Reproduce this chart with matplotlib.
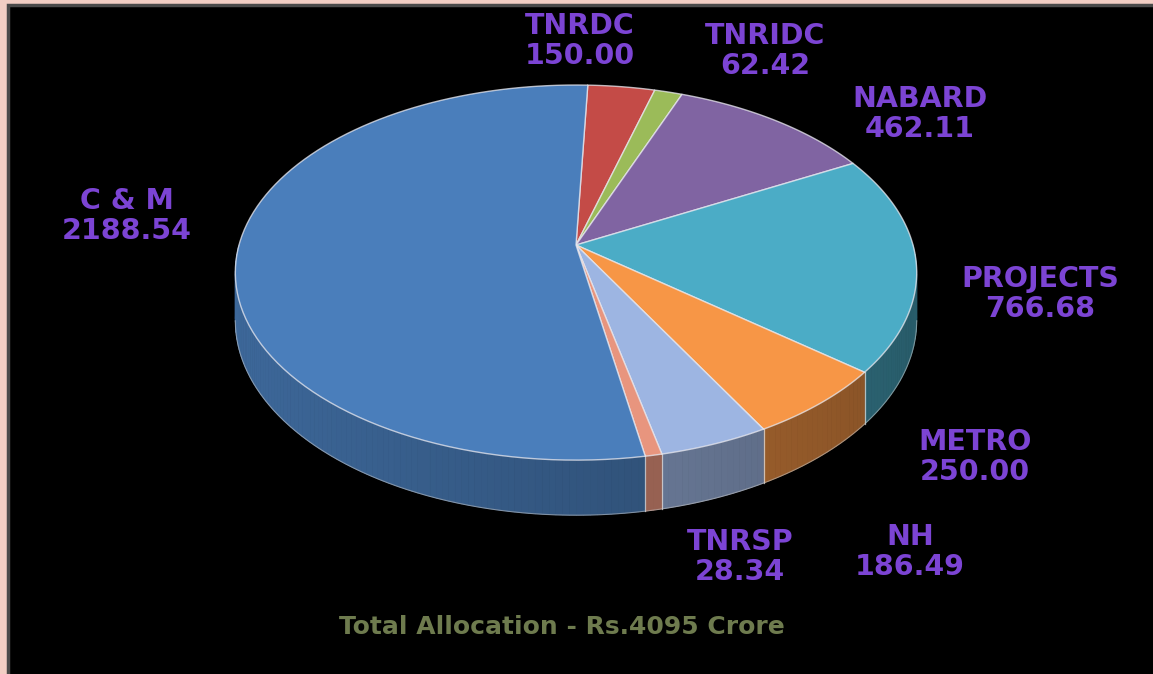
import numpy as np
import matplotlib.pyplot as plt
from matplotlib.patches import Polygon, Rectangle
from matplotlib.colors import to_rgb

# Chart data
categories = ["TNRDC", "TNRIDC", "NABARD", "PROJECTS", "METRO", "NH", "TNRSP", "C & M"]
allocation = [150.00, 62.42, 462.11, 766.68, 250.00, 186.49, 28.34, 2188.54]
title_text = "Total Allocation - Rs.4095 Crore"

# Styles
slice_colors = ["#C44B47", "#9BBB59", "#8064A2", "#4BACC6",
                "#F79646", "#9DB5E2", "#E8957E", "#4A7EBB"]
label_color = "#7C44D4"
title_color = "#6E7B4E"
# label centres (pixels from top-left)
label_pos = [(580, 41), (765, 51), (920, 114), (1040, 294),
             (975, 457), (910, 552), (740, 557), (127, 216)]

W, H = 1153, 674
CX, CY = 576, 245          # pie centre on the top face
A, B, K = 337, 183.5, 0.147  # half axes and perspective factor
DEPTH = 47
START = 87.7               # degrees, slices run clockwise


def project(t, drop=0.0):
    u, v = np.cos(t), np.sin(t)
    d = 1 + K * v
    return CX + A * u / d, CY - B * v / d + drop / d


def shade(color, f):
    r, g, b = to_rgb(color)
    return (r * f, g * f, b * f)


fig = plt.figure(figsize=(W / 100, H / 100), dpi=100)
fig.patch.set_facecolor("#F2CEC4")
ax = fig.add_axes([0, 0, 1, 1])
ax.set_xlim(0, W)
ax.set_ylim(H, 0)
ax.axis("off")

# black chart area
ax.add_patch(Rectangle((8, 5), W, H, facecolor="black", edgecolor="#4a4a4a", lw=2.5))

vals = np.array(allocation)
frac = vals / vals.sum()
edges = np.radians(START - 360 * np.concatenate([[0], np.cumsum(frac)]))

# side walls, only the front half
segs = []
for i in range(len(vals)):
    t0, t1 = edges[i], edges[i + 1]
    n = max(int(abs(t0 - t1) / np.radians(1.0)), 2)
    ts = np.linspace(t0, t1, n + 1)
    for a, b in zip(ts[:-1], ts[1:]):
        if np.sin((a + b) / 2) < 0:
            segs.append((np.sin((a + b) / 2), a, b, i))
segs.sort(key=lambda s: -s[0])
for _, a, b, i in segs:
    tm = (a + b) / 2
    f = 0.68 - 0.15 * np.cos(tm)
    col = shade(slice_colors[i], f)
    p = [project(a), project(b), project(b, DEPTH), project(a, DEPTH)]
    ax.add_patch(Polygon(p, closed=True, facecolor=col, edgecolor=col, lw=0.6))

# light lines on the walls at slice boundaries and along the bottom
for t in edges:
    if np.sin(t) < -K:
        x0, y0 = project(t)
        x1, y1 = project(t, DEPTH)
        ax.plot([x0, x1], [y0, y1], color="#e8e8e8", lw=0.9, alpha=0.7)
tb = np.linspace(np.radians(-171.5), np.radians(-8.5), 200)
bx, by = project(tb, DEPTH)
ax.plot(bx, by, color="#d0d0d0", lw=0.8, alpha=0.5)

# top face wedges
for i in range(len(vals)):
    ts = np.linspace(edges[i], edges[i + 1], 100)
    xs, ys = project(ts)
    pts = [(CX, CY)] + list(zip(xs, ys))
    ax.add_patch(Polygon(pts, closed=True, facecolor=slice_colors[i],
                         edgecolor=(0.92, 0.92, 0.95, 0.75), lw=1.0))

# data labels
for name, v, (lx, ly) in zip(categories, allocation, label_pos):
    ax.text(lx, ly, f"{name}\n{v:.2f}", ha="center", va="center",
            color=label_color, fontsize=20.5, fontweight="bold",
            family="DejaVu Sans", linespacing=1.1)

ax.text(562, 627, title_text, ha="center", va="center", color=title_color,
        fontsize=18, fontweight="bold", family="DejaVu Sans")

fig.savefig("out.png", dpi=100, facecolor=fig.get_facecolor())
